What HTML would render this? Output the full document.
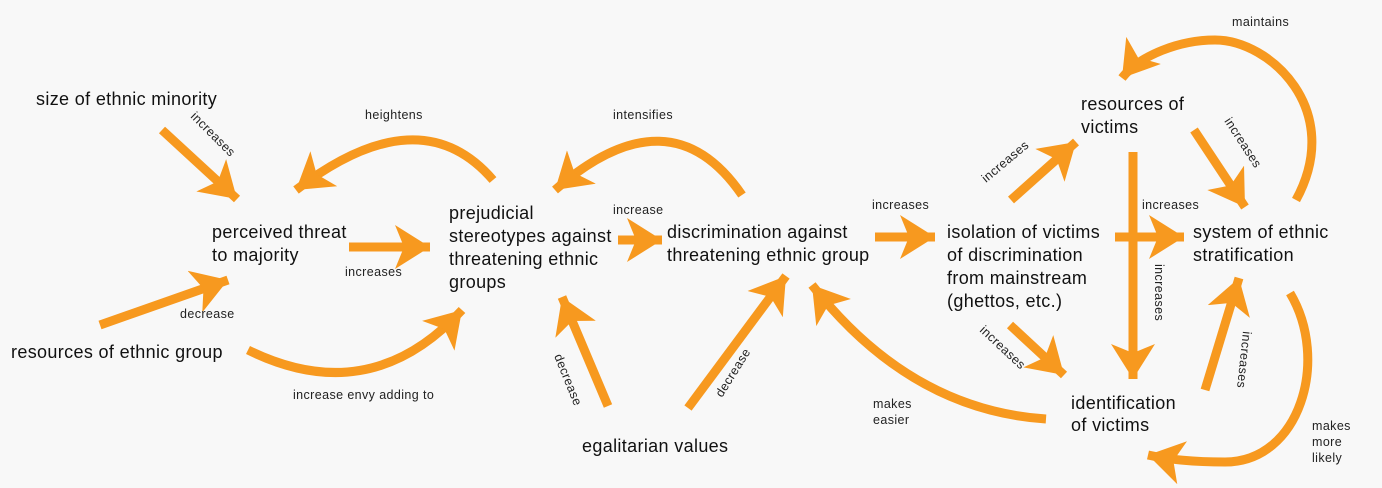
<!DOCTYPE html>
<html><head><meta charset="utf-8"><style>
html,body{margin:0;padding:0;background:#f8f8f8;}
svg{display:block;}
text{font-family:"Liberation Sans",sans-serif;fill:#111;}
.n{font-size:18px;letter-spacing:0.35px;}
.l{font-size:12.5px;letter-spacing:0.4px;fill:#222;}
</style></head><body>
<svg width="1382" height="488" viewBox="0 0 1382 488" xmlns="http://www.w3.org/2000/svg">
<defs>
<marker id="h" markerUnits="userSpaceOnUse" markerWidth="42" markerHeight="46" refX="35" refY="22" orient="auto">
<path d="M0,0 L35,22 L0,44 L9,22 Z" fill="#f7991f"/>
</marker>
</defs>
<rect width="1382" height="488" fill="#f8f8f8"/>
<g stroke="#f7991f" stroke-width="9" fill="none" stroke-linecap="butt" marker-end="url(#h)">
<line x1="162" y1="130" x2="237" y2="199"/>
<line x1="100" y1="325" x2="228" y2="280"/>
<line x1="349" y1="247" x2="430" y2="247"/>
<path d="M493,180 Q420,95 296,190"/>
<path d="M248,350 Q370,410 462,310"/>
<line x1="618" y1="240" x2="662" y2="240"/>
<path d="M742,195 Q670,90 555,190"/>
<line x1="608" y1="406" x2="562" y2="297"/>
<line x1="688" y1="408" x2="786" y2="276"/>
<line x1="875" y1="237" x2="935" y2="237"/>
<path d="M1046,419 Q910,410 812,285"/>
<line x1="1011" y1="200" x2="1076" y2="142"/>
<line x1="1133" y1="152" x2="1133" y2="379"/>
<line x1="1115" y1="237" x2="1184" y2="237"/>
<line x1="1194" y1="130" x2="1245" y2="207"/>
<line x1="1010" y1="325" x2="1064" y2="375"/>
<line x1="1205" y1="390" x2="1239" y2="278"/>
<path d="M1296,200 C1345,110 1270,40 1215,40 C1180,40 1140,55 1122,78"/>
<path d="M1290,293 C1330,360 1300,462 1225,462 C1200,462 1170,460 1148,455"/>
</g>
<text class="n" x="36" y="105">size of ethnic minority</text>
<text class="n" x="11" y="358">resources of ethnic group</text>
<text class="n" x="212" y="238">perceived threat</text>
<text class="n" x="212" y="261">to majority</text>
<text class="n" x="449" y="219">prejudicial</text>
<text class="n" x="449" y="242">stereotypes against</text>
<text class="n" x="449" y="265">threatening ethnic</text>
<text class="n" x="449" y="288">groups</text>
<text class="n" x="667" y="238">discrimination against</text>
<text class="n" x="667" y="261">threatening ethnic group</text>
<text class="n" x="582" y="452">egalitarian values</text>
<text class="n" x="947" y="238">isolation of victims</text>
<text class="n" x="947" y="261">of discrimination</text>
<text class="n" x="947" y="284">from mainstream</text>
<text class="n" x="947" y="307">(ghettos, etc.)</text>
<text class="n" x="1081" y="110">resources of</text>
<text class="n" x="1081" y="133">victims</text>
<text class="n" x="1193" y="238">system of ethnic</text>
<text class="n" x="1193" y="261">stratification</text>
<text class="n" x="1071" y="409">identification</text>
<text class="n" x="1071" y="431">of victims</text>

<text class="l" x="365" y="119">heightens</text>
<text class="l" x="345" y="276">increases</text>
<text class="l" x="180" y="318">decrease</text>
<text class="l" x="293" y="399">increase envy adding to</text>
<text class="l" x="613" y="119">intensifies</text>
<text class="l" x="613" y="214">increase</text>
<text class="l" x="872" y="209">increases</text>
<text class="l" x="873" y="408">makes</text>
<text class="l" x="873" y="424">easier</text>
<text class="l" x="1142" y="209">increases</text>
<text class="l" x="1232" y="26">maintains</text>
<text class="l" x="1312" y="430">makes</text>
<text class="l" x="1312" y="446">more</text>
<text class="l" x="1312" y="462">likely</text>
<text class="l" transform="translate(190,117) rotate(45)">increases</text>
<text class="l" transform="translate(554,356) rotate(68)">decrease</text>
<text class="l" transform="translate(722,398) rotate(-58)">decrease</text>
<text class="l" transform="translate(986,183) rotate(-40)">increases</text>
<text class="l" transform="translate(1224,121) rotate(57)">increases</text>
<text class="l" transform="translate(1155,264) rotate(90)">increases</text>
<text class="l" transform="translate(979,331) rotate(43)">increases</text>
<text class="l" transform="translate(1243,331) rotate(96)">increases</text>
</svg>
</body></html>
